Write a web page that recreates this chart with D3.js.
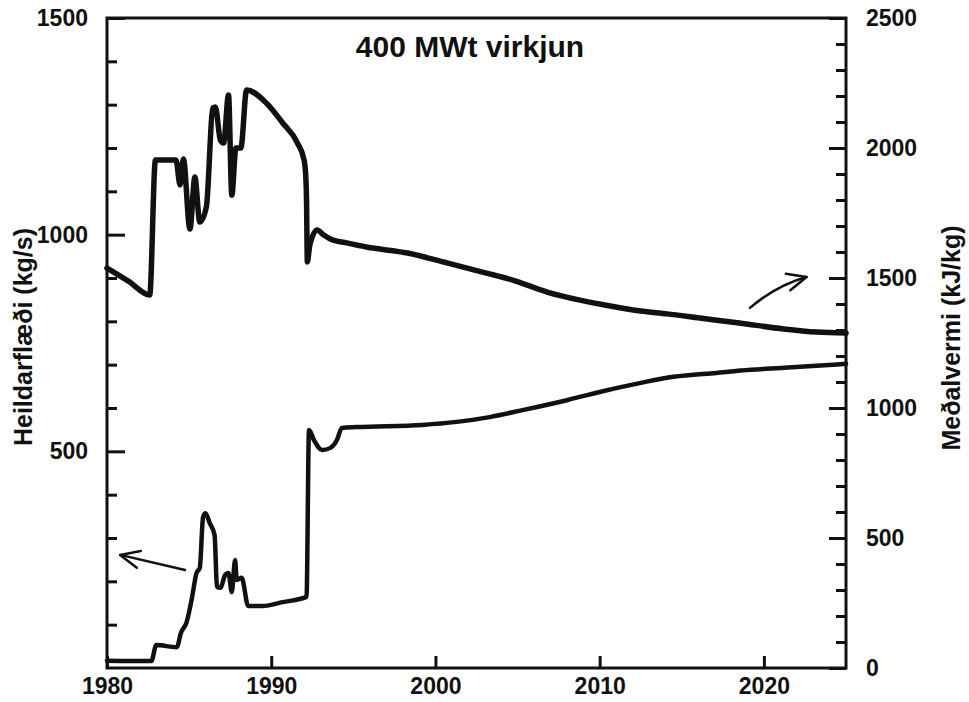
<!DOCTYPE html>
<html>
<head>
<meta charset="utf-8">
<script src="https://cdn.jsdelivr.net/npm/d3@7"></script>
<style>
  html, body { margin: 0; padding: 0; background: #fff; }
  svg { display: block; }
  text { font-family: "Liberation Sans", Arial, Helvetica, sans-serif; font-weight: bold; fill: #111; }
</style>
</head>
<body>
<svg id="chart" width="969" height="702"></svg>
<script>
// Total mass flow (kg/s, left axis)
const flowYears = [1980.0, 1982.7, 1983.0, 1984.25, 1984.5, 1984.85, 1985.15, 1985.45, 1985.65, 1985.85,
  1986.0, 1986.25, 1986.55, 1986.7, 1986.9, 1987.2, 1987.4, 1987.6, 1987.8, 1987.9,
  1988.2, 1988.6, 1989.5, 1990.7, 1992.15, 1992.3, 1992.6, 1993.1, 1993.6, 1994.0,
  1994.3, 1995.2, 1999.2, 2001.3, 2003.3, 2005.3, 2008.0, 2010.0, 2012.5, 2014.5,
  2017.1, 2019.2, 2022.2, 2025.0];
const flowValues = [17, 16, 53, 48, 81, 106, 157, 219, 231, 348,
  357, 335, 307, 187, 185, 215, 219, 175, 249, 203,
  208, 143, 143, 152, 164, 549, 526, 503, 508, 526,
  554, 556, 561, 568, 579, 595, 618, 637, 658, 672,
  681, 688, 695, 702];

// Mean enthalpy (kJ/kg, right axis)
const enthYears = [1980.0, 1981.3, 1982.6, 1982.95, 1984.2, 1984.45, 1984.65, 1985.05, 1985.35, 1985.65, 1986.05,
  1986.45, 1986.6, 1986.9, 1987.1, 1987.4, 1987.6, 1987.85, 1988.15, 1988.5, 1989.7,
  1990.7, 1991.6, 1992.0, 1992.1, 1992.15, 1992.2, 1992.35, 1992.8, 1993.2, 1993.6,
  1994.6, 1995.8, 1998.3, 2000.7, 2003.1, 2004.7, 2006.8, 2008.8, 2010.0, 2012.5,
  2014.1, 2016.1, 2018.5, 2021.2, 2023.2, 2025.0];
const enthValues = [1538, 1488, 1435, 1954, 1954, 1858, 1958, 1688, 1888, 1715, 1773,
  2154, 2158, 2031, 2019, 2204, 1819, 2000, 2000, 2223, 2173,
  2096, 2019, 1954, 1896, 1800, 1562, 1627, 1685, 1665, 1650,
  1635, 1619, 1596, 1558, 1519, 1492, 1446, 1415, 1400, 1373,
  1362, 1346, 1327, 1304, 1292, 1288];

// Axis ticks
const xTicks = [1980, 1990, 2000, 2010, 2020];
const leftMajor = [500, 1000, 1500];
const leftMinor = [100, 200, 300, 400, 600, 700, 800, 900, 1100, 1200, 1300, 1400];
const rightMajor = [0, 500, 1000, 1500, 2000, 2500];
const rightMinor = [100, 200, 300, 400, 600, 700, 800, 900, 1100, 1200, 1300, 1400,
  1600, 1700, 1800, 1900, 2100, 2200, 2300, 2400];

// Texts
const titleText = "400 MWt virkjun";
const leftTitle = "Heildarflæði (kg/s)";
const rightTitle = "Meðalvermi (kJ/kg)";

// Pointer arrows: [year, value] tail, bend, tip
const flowArrow = [[1984.75, 226], [1982.8, 243], [1980.8, 261]];
const enthArrow = [[2019.15, 1385], [2020.8, 1473], [2022.6, 1504]];

const svg = d3.select("#chart");
const x = d3.scaleLinear().domain([1980, 2025]).range([107, 846]);
const yL = d3.scaleLinear().domain([0, 1500]).range([668, 18]);
const yR = d3.scaleLinear().domain([0, 2500]).range([668, 18]);

const ink = "#111";

function styleAxis(g, width) {
  g.select(".domain").remove();
  g.selectAll(".tick line").attr("stroke", ink).attr("stroke-width", width);
  g.selectAll(".tick text").attr("font-size", 23).attr("fill", ink)
    .attr("font-family", "'Liberation Sans', Arial, sans-serif").attr("font-weight", "bold");
}

// Left axis: minor then major ticks, pointing into the plot
svg.append("g").attr("transform", `translate(${x(1980)},0)`)
  .call(d3.axisLeft(yL).tickValues(leftMinor).tickSizeInner(-10).tickSizeOuter(0).tickFormat(""))
  .call(g => styleAxis(g, 3));
svg.append("g").attr("transform", `translate(${x(1980)},0)`)
  .call(d3.axisLeft(yL).tickValues(leftMajor).tickSizeInner(-18).tickSizeOuter(0).tickPadding(19).tickFormat(d3.format("d")))
  .call(g => styleAxis(g, 3));

// Right axis
svg.append("g").attr("transform", `translate(${x(2025)},0)`)
  .call(d3.axisRight(yR).tickValues(rightMinor).tickSizeInner(-10).tickSizeOuter(0).tickFormat(""))
  .call(g => styleAxis(g, 3));
svg.append("g").attr("transform", `translate(${x(2025)},0)`)
  .call(d3.axisRight(yR).tickValues(rightMajor).tickSizeInner(-17).tickSizeOuter(0).tickPadding(20).tickFormat(d3.format("d")))
  .call(g => styleAxis(g, 3));

// Bottom axis
svg.append("g").attr("transform", `translate(0,${yL(0)})`)
  .call(d3.axisBottom(x).tickValues(xTicks).tickSizeInner(-12).tickSizeOuter(0).tickPadding(10).tickFormat(d3.format("d")))
  .call(g => styleAxis(g, 3));

// Frame
svg.append("rect")
  .attr("x", x(1980)).attr("y", yL(1500))
  .attr("width", x(2025) - x(1980)).attr("height", yL(0) - yL(1500))
  .attr("fill", "none").attr("stroke", ink).attr("stroke-width", 3);

// Curves
const flowLine = d3.line().x(d => x(d[0])).y(d => yL(d[1])).curve(d3.curveMonotoneX);
const enthLine = d3.line().x(d => x(d[0])).y(d => yR(d[1])).curve(d3.curveMonotoneX);

svg.append("path")
  .datum(d3.zip(enthYears, enthValues))
  .attr("d", enthLine)
  .attr("fill", "none").attr("stroke", ink).attr("stroke-width", 5.5)
  .attr("stroke-linejoin", "round").attr("stroke-linecap", "round");

svg.append("path")
  .datum(d3.zip(flowYears, flowValues))
  .attr("d", flowLine)
  .attr("fill", "none").attr("stroke", ink).attr("stroke-width", 4.5)
  .attr("stroke-linejoin", "round").attr("stroke-linecap", "round");

// Arrows pointing each curve to its axis
function drawArrow(pts, yScale) {
  const p = pts.map(d => [x(d[0]), yScale(d[1])]);
  const path = d3.path();
  path.moveTo(p[0][0], p[0][1]);
  path.quadraticCurveTo(p[1][0], p[1][1], p[2][0], p[2][1]);
  svg.append("path").attr("d", path.toString())
    .attr("fill", "none").attr("stroke", ink).attr("stroke-width", 2.5).attr("stroke-linecap", "round");
  const back = Math.atan2(p[1][1] - p[2][1], p[1][0] - p[2][0]);
  const len = 21, spread = 0.42;
  const head = d3.path();
  head.moveTo(p[2][0] + len * Math.cos(back - spread), p[2][1] + len * Math.sin(back - spread));
  head.lineTo(p[2][0], p[2][1]);
  head.lineTo(p[2][0] + len * Math.cos(back + spread), p[2][1] + len * Math.sin(back + spread));
  svg.append("path").attr("d", head.toString())
    .attr("fill", "none").attr("stroke", ink).attr("stroke-width", 2.5)
    .attr("stroke-linecap", "round").attr("stroke-linejoin", "round");
}
drawArrow(flowArrow, yL);
drawArrow(enthArrow, yR);

// Title and axis titles
svg.append("text").attr("x", 470).attr("y", 57).attr("text-anchor", "middle")
  .attr("font-size", 30).text(titleText);
svg.append("text").attr("transform", "translate(32,337) rotate(-90)")
  .attr("text-anchor", "middle").attr("font-size", 25).text(leftTitle);
svg.append("text").attr("transform", "translate(960,338) rotate(-90)")
  .attr("text-anchor", "middle").attr("font-size", 25).text(rightTitle);
</script>
</body>
</html>
